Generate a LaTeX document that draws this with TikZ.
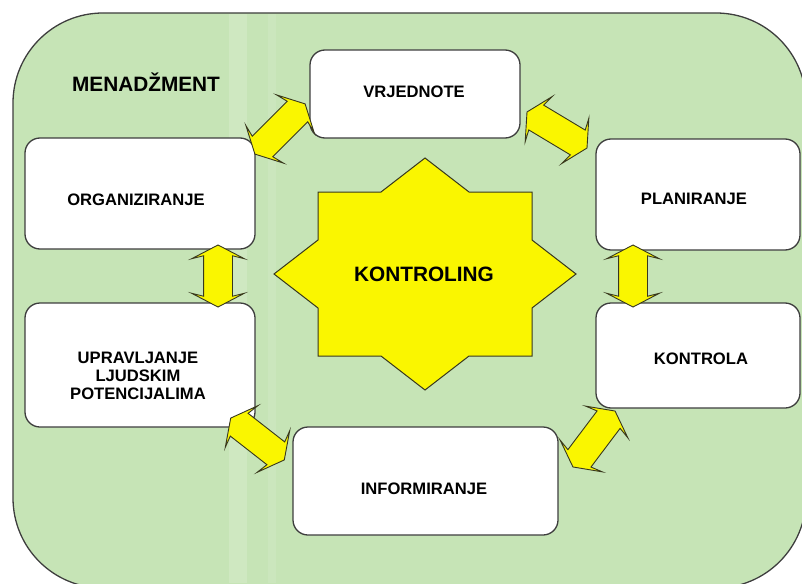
\documentclass[tikz,border=0pt]{standalone}
\usepackage{fontspec}
\setmainfont{Liberation Sans}
\usetikzlibrary{shapes.arrows}
\definecolor{bggreen}{RGB}{198,228,182}
\definecolor{edgegrey}{RGB}{62,62,62}
\definecolor{staryellow}{RGB}{250,246,0}
\definecolor{arrowedge}{RGB}{55,55,30}
\begin{document}
\begin{tikzpicture}[x=1pt,y=-1pt,
  box/.style={draw=edgegrey, line width=1.3pt, fill=white, rounded corners=15pt, inner sep=0pt},
  boxtext/.style={font=\fontsize{16.6}{18}\selectfont\bfseries, align=center, inner sep=0pt},
  dbl/.style={double arrow, draw=arrowedge, line width=0.9pt, fill=staryellow,
    inner xsep=0pt, inner ysep=14pt, minimum width=52pt, double arrow head extend=12pt,
    double arrow tip angle=125, double arrow head indent=3pt},
  bigtext/.style={font=\fontsize{20.8}{22}\selectfont\bfseries, inner sep=0pt},
  starshape/.style={draw=arrowedge, line width=1pt, fill=staryellow, line join=miter}]
\useasboundingbox (0,0) rectangle (802,583);
\clip (0,0) rectangle (802,583);
% background panel
\draw[fill=bggreen, draw=edgegrey, line width=1.3pt, rounded corners=90pt] (13,13) rectangle (806,588);
% scan fold artefact
\fill[white, opacity=0.16] (229,14) rectangle (247,583);
\fill[white, opacity=0.10] (268,14) rectangle (276,583);
\node[bigtext] (men) at (146,82) {MENAD\v{Z}MENT};
% boxes
\node[box, minimum width=210pt, minimum height=88pt] (vrj) at (415,94) {};
\node[box, minimum width=230pt, minimum height=111pt] (org) at (140,193.5) {};
\node[box, minimum width=204pt, minimum height=111pt] (pla) at (698,194.5) {};
\node[box, minimum width=230pt, minimum height=124pt] (upr) at (140,365) {};
\node[box, minimum width=204pt, minimum height=105pt] (kon) at (698,355.5) {};
\node[box, minimum width=265pt, minimum height=108pt] (inf) at (425.5,481) {};
\node[boxtext] (vrjt) at (414,92) {VRJEDNOTE};
\node[boxtext] (orgt) at (136,200) {ORGANIZIRANJE};
\node[boxtext] (plat) at (694,199) {PLANIRANJE};
\node[boxtext] (uprt) at (138,376) {UPRAVLJANJE\\LJUDSKIM\\POTENCIJALIMA};
\node[boxtext] (kont) at (701,359) {KONTROLA};
\node[boxtext] (inft) at (424,489) {INFORMIRANJE};
% star
\begin{scope}[shift={(425,274)}]
\draw[starshape] (0,-116) -- (44,-82) -- (107,-82) -- (107,-34) -- (151,0) -- (107,34)
  -- (107,82) -- (44,82) -- (0,116) -- (-44,82) -- (-107,82) -- (-107,34)
  -- (-151,0) -- (-107,-34) -- (-107,-82) -- (-44,-82) -- cycle;
\end{scope}
\node[bigtext] (ktl) at (424,274) {KONTROLING};
% double arrows
\node[dbl, minimum height=71pt, rotate=45] (a1) at (280,129) {};
\node[dbl, minimum height=70pt, rotate=-31] (a2) at (557,130) {};
\node[dbl, minimum height=62pt, rotate=90] (a3) at (218,276) {};
\node[dbl, minimum height=62pt, rotate=90] (a4) at (633,276) {};
\node[dbl, minimum height=68pt, rotate=-38] (a5) at (257.5,439) {};
\node[dbl, minimum height=70pt, rotate=53] (a6) at (594,439) {};
\end{tikzpicture}
\end{document}
